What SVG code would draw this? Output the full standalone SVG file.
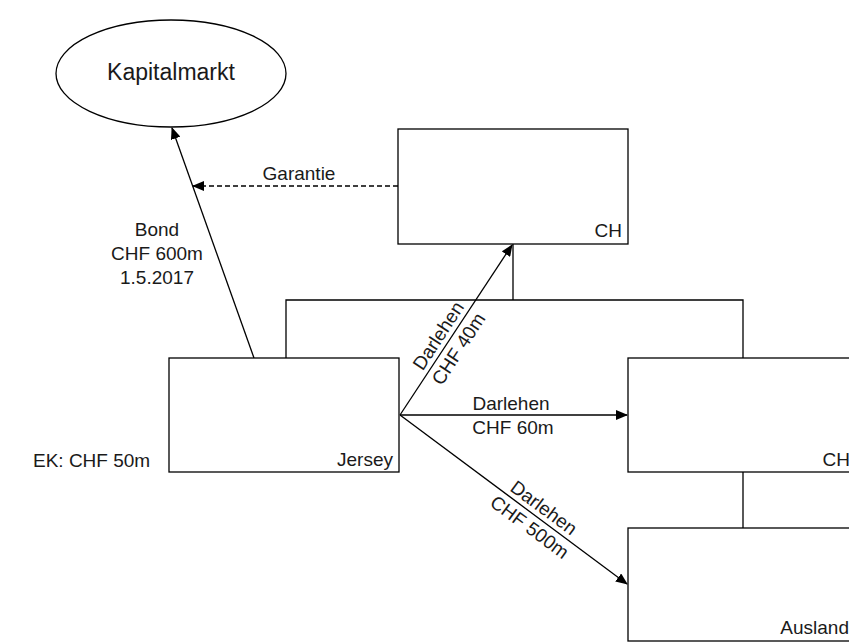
<svg xmlns="http://www.w3.org/2000/svg" width="849" height="642" viewBox="0 0 849 642">
<style>
.box{fill:#fff;stroke:#000;stroke-width:1.3}
.ln{fill:none;stroke:#000;stroke-width:1.3}
.dash{stroke-dasharray:5 3}
text{font-family:"Liberation Sans",Arial,sans-serif;font-size:19px;fill:#1a1a1a}
.mid{text-anchor:middle}
.end{text-anchor:end}
</style>
<defs>
<marker id="arr" markerWidth="12" markerHeight="10" refX="11" refY="5" orient="auto" markerUnits="userSpaceOnUse">
<path d="M0,0 L12,5 L0,10 Z" fill="#000"/>
</marker>
</defs>
<rect width="849" height="642" fill="#fff"/>
<g id="connectors">
<path class="ln" d="M513,244 V300 M286,358 V300 H743 V358 M743,472 V528"/>
<line class="ln" x1="254" y1="358" x2="172" y2="128" marker-end="url(#arr)"/>
<line class="ln dash" x1="398" y1="186" x2="193" y2="186" marker-end="url(#arr)"/>
<line class="ln" x1="400" y1="415" x2="512" y2="245" marker-end="url(#arr)"/>
<line class="ln" x1="400" y1="415" x2="627" y2="415" marker-end="url(#arr)"/>
<line class="ln" x1="400" y1="415" x2="627" y2="584" marker-end="url(#arr)"/>
<text class="mid" x="157" y="236">Bond</text>
<text class="mid" x="157" y="260">CHF 600m</text>
<text class="mid" x="157" y="284">1.5.2017</text>
<text class="mid" x="299" y="180">Garantie</text>
<g transform="translate(448,342) rotate(-56.9)">
<text class="mid" x="0" y="-5">Darlehen</text>
<text class="mid" x="0" y="19">CHF 40m</text>
</g>
<text class="mid" x="511" y="410">Darlehen</text>
<text class="mid" x="513" y="434">CHF 60m</text>
<g transform="translate(537,517) rotate(36.5)">
<text class="mid" x="0" y="-5">Darlehen</text>
<text class="mid" x="0" y="19">CHF 500m</text>
</g>
</g>
<g id="kapitalmarkt">
<ellipse class="box" cx="171" cy="73.5" rx="115" ry="53.5"/>
<text class="mid" x="171" y="80" style="font-size:23px">Kapitalmarkt</text>
</g>
<g id="ch-top">
<rect class="box" x="398" y="129" width="230" height="115"/>
<text class="end" x="622" y="237">CH</text>
</g>
<g id="jersey">
<rect class="box" x="169" y="358" width="230" height="114"/>
<text class="end" x="393" y="466">Jersey</text>
</g>
<g id="ch-right">
<rect class="box" x="628" y="358" width="230" height="114"/>
<text class="end" x="850" y="466">CH</text>
</g>
<g id="ausland">
<rect class="box" x="628" y="528" width="230" height="113"/>
<text class="end" x="849" y="634">Ausland</text>
</g>
<g id="ek">
<text x="33" y="467">EK: CHF 50m</text>
</g>
</svg>
